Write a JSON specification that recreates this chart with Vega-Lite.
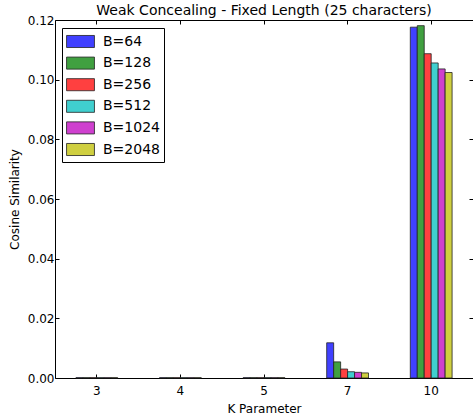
{
  "$schema": "https://vega.github.io/schema/vega-lite/v6.json",
  "width": 418,
  "height": 358,
  "autosize": {"type": "none"},
  "padding": {"left": 55, "top": 20, "right": 0, "bottom": 40},
  "title": {"text": "Weak Concealing - Fixed Length (25 characters)", "fontSize": 14, "fontWeight": "normal", "font": "DejaVu Sans", "color": "black", "offset": -4},
  "config": {
    "view": {"stroke": "black", "strokeWidth": 1},
    "font": "DejaVu Sans",
    "axis": {"grid": false, "domain": false, "tickColor": "black", "tickSize": -4, "labelColor": "black", "titleColor": "black", "labelFontSize": 12, "titleFontSize": 12, "titleFontWeight": "normal", "labelFont": "DejaVu Sans", "titleFont": "DejaVu Sans"},
    "legend": {"orient": "none", "legendX": 7, "legendY": 8, "strokeColor": "black", "fillColor": "white", "padding": 4, "rowPadding": 3.6, "symbolType": "M-1.55,-0.67H1.55V0.67H-1.55Z", "symbolSize": 324, "symbolStrokeColor": "#222", "symbolStrokeWidth": 0.8, "symbolOpacity": 1, "symbolOffset": 5, "labelOffset": 13, "labelFontSize": 14, "labelColor": "black", "labelFont": "DejaVu Sans", "title": null, "cornerRadius": 0}
  },
  "data": {"values": [
    {"K": "3", "B": "B=64", "value": 0.0001},
    {"K": "3", "B": "B=128", "value": 0.0001},
    {"K": "3", "B": "B=256", "value": 0.0001},
    {"K": "3", "B": "B=512", "value": 0.0001},
    {"K": "3", "B": "B=1024", "value": 0.0001},
    {"K": "3", "B": "B=2048", "value": 0.0001},
    {"K": "4", "B": "B=64", "value": 0.0001},
    {"K": "4", "B": "B=128", "value": 0.0001},
    {"K": "4", "B": "B=256", "value": 0.0001},
    {"K": "4", "B": "B=512", "value": 0.0001},
    {"K": "4", "B": "B=1024", "value": 0.0001},
    {"K": "4", "B": "B=2048", "value": 0.0001},
    {"K": "5", "B": "B=64", "value": 0.0001},
    {"K": "5", "B": "B=128", "value": 0.0001},
    {"K": "5", "B": "B=256", "value": 0.0001},
    {"K": "5", "B": "B=512", "value": 0.0001},
    {"K": "5", "B": "B=1024", "value": 0.0001},
    {"K": "5", "B": "B=2048", "value": 0.0001},
    {"K": "7", "B": "B=64", "value": 0.0118},
    {"K": "7", "B": "B=128", "value": 0.0054},
    {"K": "7", "B": "B=256", "value": 0.003},
    {"K": "7", "B": "B=512", "value": 0.0021},
    {"K": "7", "B": "B=1024", "value": 0.0019},
    {"K": "7", "B": "B=2048", "value": 0.0017},
    {"K": "10", "B": "B=64", "value": 0.1176},
    {"K": "10", "B": "B=128", "value": 0.1181},
    {"K": "10", "B": "B=256", "value": 0.1087},
    {"K": "10", "B": "B=512", "value": 0.1056},
    {"K": "10", "B": "B=1024", "value": 0.1036},
    {"K": "10", "B": "B=2048", "value": 0.1024}
  ]},
  "layer": [
    {
      "mark": {"type": "bar", "stroke": "#222", "strokeWidth": 0.8},
      "encoding": {
        "x": {"field": "K", "type": "ordinal", "sort": ["3", "4", "5", "7", "10"], "scale": {"paddingInner": 0.5, "paddingOuter": 0.25}, "axis": {"title": "K Parameter", "labelAngle": 0, "labelPadding": 11, "titlePadding": 7}},
        "xOffset": {"field": "B", "type": "nominal", "sort": ["B=64", "B=128", "B=256", "B=512", "B=1024", "B=2048"]},
        "y": {"field": "value", "type": "quantitative", "scale": {"domain": [0, 0.12], "nice": false}, "axis": {"title": "Cosine Similarity", "values": [0, 0.02, 0.04, 0.06, 0.08, 0.1, 0.12], "format": ".2f", "labelPadding": 5, "titlePadding": 6}},
        "color": {"field": "B", "type": "nominal", "sort": ["B=64", "B=128", "B=256", "B=512", "B=1024", "B=2048"], "scale": {"domain": ["B=64", "B=128", "B=256", "B=512", "B=1024", "B=2048"], "range": ["#4040ff", "#40a040", "#ff4040", "#40cfcf", "#cf40cf", "#cfcf40"]}}
      }
    },
    {
      "mark": {"type": "bar", "opacity": 0},
      "encoding": {
        "x": {"field": "K", "type": "ordinal", "sort": ["3", "4", "5", "7", "10"], "axis": {"orient": "top", "title": null, "labels": false}},
        "xOffset": {"field": "B", "type": "nominal", "sort": ["B=64", "B=128", "B=256", "B=512", "B=1024", "B=2048"]},
        "y": {"field": "value", "type": "quantitative", "axis": {"orient": "right", "title": null, "labels": false, "values": [0, 0.02, 0.04, 0.06, 0.08, 0.1, 0.12]}}
      }
    }
  ],
  "resolve": {"axis": {"x": "independent", "y": "independent"}}
}
